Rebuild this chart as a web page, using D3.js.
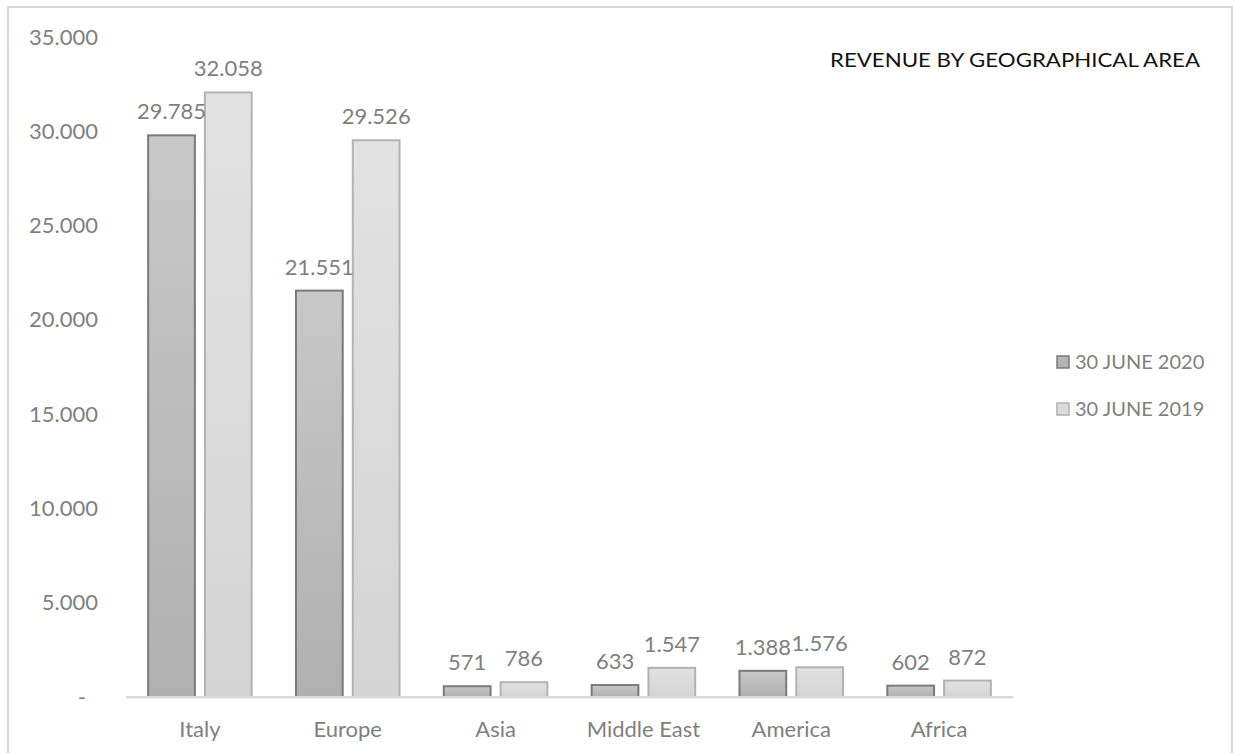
<!DOCTYPE html>
<html>
<head>
<meta charset="utf-8">
<script src="https://cdn.jsdelivr.net/npm/d3@7"></script>
<style>
  html, body { margin: 0; padding: 0; background: #fff; }
  svg { display: block; }
  text { font-family: Lato, "Open Sans", "DejaVu Sans", sans-serif; }
</style>
</head>
<body>
<svg id="chart" width="1233" height="753"></svg>
<script>
// Revenue by region, thousands of euro
const areas = ["Italy", "Europe", "Asia", "Middle East", "America", "Africa"];
const seriesNames = ["30 JUNE 2020", "30 JUNE 2019"];
const revenue2020 = [29785, 21551, 571, 633, 1388, 602];
const revenue2019 = [32058, 29526, 786, 1547, 1576, 872];
const yTicks = [0, 5000, 10000, 15000, 20000, 25000, 30000, 35000];
const chartTitle = "REVENUE BY GEOGRAPHICAL AREA";

const seriesValues = [revenue2020, revenue2019];
const rows = areas.map((a, i) => ({
  area: a,
  values: seriesNames.map((s, j) => ({ series: s, value: seriesValues[j][i] }))
}));

const svg = d3.select("#chart");
const W = 1233, H = 753;
const plot = { left: 126, right: 1013, top: 37, bottom: 697 };

// Formats numbers the Italian way: 32.058, dash for zero
const fmt = v => v === 0 ? "-" : d3.format(",")(v).replace(/,/g, ".");

const defs = svg.append("defs");
const grads = [
  { id: "g2020", top: "#c8c8c8", bottom: "#b0b0b0" },
  { id: "g2019", top: "#e2e2e2", bottom: "#d4d4d4" }
];
grads.forEach(g => {
  const lg = defs.append("linearGradient").attr("id", g.id)
    .attr("x1", 0).attr("y1", 0).attr("x2", 0).attr("y2", 1);
  lg.append("stop").attr("offset", "0%").attr("stop-color", g.top);
  lg.append("stop").attr("offset", "100%").attr("stop-color", g.bottom);
});
const fills = { "30 JUNE 2020": "url(#g2020)", "30 JUNE 2019": "url(#g2019)" };
const strokes = { "30 JUNE 2020": "#7a7a7a", "30 JUNE 2019": "#b2b2b2" };
const swatch = { "30 JUNE 2020": "#b4b4b4", "30 JUNE 2019": "#dcdcdc" };

// Chart frame
svg.append("rect")
  .attr("x", 8).attr("y", 7).attr("width", W - 9).attr("height", H + 10)
  .attr("fill", "#fff").attr("stroke", "#d9d9d9").attr("stroke-width", 2);

const x0 = d3.scaleBand().domain(areas).range([plot.left, plot.right]).padding(0);
const x1 = d3.scaleBand().domain(seriesNames).range([0, x0.bandwidth()])
  .paddingInner(0.177).paddingOuter(0.39);
const y = d3.scaleLinear().domain([0, 35000]).range([plot.bottom, plot.top]);

// Y axis labels (no line, no ticks)
const yAxis = d3.axisLeft(y).tickValues(yTicks).tickFormat(fmt).tickSize(0).tickPadding(0);
const yg = svg.append("g").attr("transform", "translate(98,0)").call(yAxis);
yg.select(".domain").remove();
yg.selectAll("text")
  .attr("fill", "#7f7f7f").style("font-size", "22px")
  .attr("dx", d => d === 0 ? -12 : 0);

// Category axis
const xAxis = d3.axisBottom(x0).tickSize(0).tickPadding(24);
const xg = svg.append("g").attr("transform", `translate(0,${plot.bottom})`).call(xAxis);
xg.select(".domain").attr("stroke", "#d9d9d9").attr("stroke-width", 2);
xg.selectAll("text").attr("fill", "#7f7f7f").style("font-size", "22px");

// Bars
const groups = svg.append("g").selectAll("g").data(rows).join("g")
  .attr("transform", d => `translate(${x0(d.area)},0)`);

groups.selectAll("rect").data(d => d.values).join("rect")
  .attr("x", d => x1(d.series))
  .attr("y", d => y(d.value))
  .attr("width", x1.bandwidth())
  .attr("height", d => y(0) - y(d.value))
  .attr("fill", d => fills[d.series])
  .attr("stroke", d => strokes[d.series])
  .attr("stroke-width", 2);

// Value labels
groups.selectAll("text.val").data(d => d.values).join("text")
  .attr("class", "val")
  .attr("x", d => x1(d.series) + x1.bandwidth() / 2)
  .attr("y", d => y(d.value) - 16)
  .attr("text-anchor", "middle")
  .attr("fill", "#7f7f7f")
  .style("font-size", "22px")
  .text(d => fmt(d.value));

// Redraw axis line over bar bottoms
svg.append("line")
  .attr("x1", plot.left).attr("x2", plot.right)
  .attr("y1", plot.bottom).attr("y2", plot.bottom)
  .attr("stroke", "#d9d9d9").attr("stroke-width", 2);

// Title
svg.append("text")
  .attr("x", 830).attr("y", 67)
  .attr("textLength", 370).attr("lengthAdjust", "spacingAndGlyphs")
  .attr("fill", "#111")
  .style("font-size", "20px")
  .text(chartTitle);

// Legend
const legend = svg.append("g").selectAll("g").data(seriesNames).join("g")
  .attr("transform", (d, i) => `translate(1057,${362 + i * 47})`);
legend.append("rect")
  .attr("x", 0).attr("y", -6).attr("width", 12).attr("height", 12)
  .attr("fill", d => swatch[d]).attr("stroke", d => strokes[d]).attr("stroke-width", 1.5);
legend.append("text")
  .attr("x", 18).attr("y", 0).attr("dy", "0.35em")
  .attr("fill", "#7f7f7f").style("font-size", "20px")
  .text(d => d);
</script>
</body>
</html>
